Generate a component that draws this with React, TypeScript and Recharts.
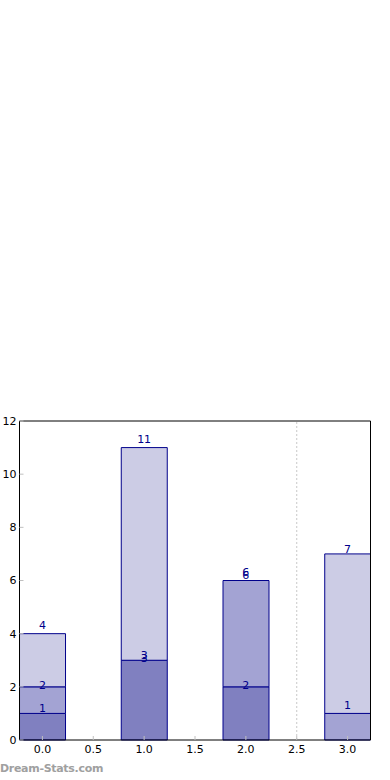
import React from 'react'
import {
  ComposedChart,
  Bar,
  Line,
  XAxis,
  YAxis,
  ReferenceLine,
  LabelList,
} from 'recharts'

// bar positions on the numeric x axis
const positions = [0, 1, 2, 3]
// stacked segments, bottom to top
const darkValues = [1, 3, 2, 0]
const midValues = [1, 0, 4, 1]
const lightValues = [2, 8, 0, 6]

const xTicks = [0, 0.5, 1, 1.5, 2, 2.5, 3]
const yTicks = [0, 2, 4, 6, 8, 10, 12]
const dividerX = 2.5

const EDGE = '#00008b'
const TICK_GRAY = '#c0c0c0'
const FONT = '"DejaVu Sans", sans-serif'
const X_DOMAIN = [-0.225, 3.225]

const chartData = positions.map((pos, i) => {
  const dark = darkValues[i]
  const mid = midValues[i]
  const light = lightValues[i]
  return {
    pos,
    dark,
    mid,
    light,
    cumDark: dark,
    cumMid: dark + mid,
    cumLight: dark + mid + light,
  }
})

// small vertical nudges (px) of the total labels, per series and bar
const labelLines = [
  { key: 'cumDark', shift: [-1.4, -1.3, 2.2, 0] },
  { key: 'cumMid', shift: [2.2, 1.7, -4.3, -4] },
  { key: 'cumLight', shift: [-4.7, -4.6, -1.3, -1.3] },
]

// labels show the running total at the top of each segment
const makeLabel = (shift: number[]) => (props: any) => {
  const { x, y, value, index } = props
  if (!value) return null
  return (
    <text
      x={Number(x)}
      y={Number(y) + (shift[index] ?? 0)}
      textAnchor="middle"
      fill={EDGE}
      fontSize={11}
      fontFamily={FONT}
    >
      {value}
    </text>
  )
}

export default function App() {
  return (
    <div style={{ position: 'absolute', left: 0, top: 0, width: 390, height: 780, fontFamily: FONT }}>
      <ComposedChart
        width={390}
        height={780}
        data={chartData}
        margin={{ top: 420, right: 18.5, bottom: 20, left: 0 }}
        barSize={46}
      >
        <XAxis
          dataKey="pos"
          type="number"
          domain={X_DOMAIN}
          allowDataOverflow
          ticks={xTicks}
          tickFormatter={(v: number) => v.toFixed(1)}
          height={20}
          tickSize={-4}
          tickMargin={9}
          axisLine={{ stroke: '#000' }}
          tickLine={{ stroke: TICK_GRAY }}
          tick={{ fill: '#000', fontSize: 11, fontFamily: FONT }}
        />
        <XAxis
          xAxisId="top"
          orientation="top"
          dataKey="pos"
          type="number"
          domain={X_DOMAIN}
          allowDataOverflow
          ticks={xTicks}
          height={1}
          tickSize={-4}
          axisLine={{ stroke: '#000' }}
          tickLine={{ stroke: TICK_GRAY }}
          tick={false}
        />
        <YAxis
          domain={[0, 12]}
          ticks={yTicks}
          width={19.5}
          tickSize={-4}
          tickMargin={7}
          axisLine={{ stroke: '#000' }}
          tickLine={{ stroke: TICK_GRAY }}
          tick={{ fill: '#000', fontSize: 11, fontFamily: FONT }}
        />
        <YAxis
          yAxisId="right"
          orientation="right"
          domain={[0, 12]}
          ticks={yTicks}
          width={1}
          tickSize={-4}
          axisLine={{ stroke: '#000' }}
          tickLine={{ stroke: TICK_GRAY }}
          tick={false}
        />
        <ReferenceLine x={dividerX} stroke="#c8c8c8" strokeDasharray="2 2" />
        <Bar dataKey="dark" stackId="a" fill="#8080c0" stroke={EDGE} strokeWidth={1} isAnimationActive={false} />
        <Bar dataKey="mid" stackId="a" fill="#a3a3d3" stroke={EDGE} strokeWidth={1} isAnimationActive={false} />
        <Bar dataKey="light" stackId="a" fill="#ccccE5" stroke={EDGE} strokeWidth={1} isAnimationActive={false} />
        {labelLines.map((l) => (
          <Line
            key={l.key}
            dataKey={l.key}
            stroke="none"
            dot={false}
            activeDot={false}
            legendType="none"
            isAnimationActive={false}
          >
            <LabelList dataKey={l.key} content={makeLabel(l.shift)} />
          </Line>
        ))}
      </ComposedChart>
      <div
        style={{
          position: 'absolute',
          left: 0,
          top: 762,
          fontSize: 11,
          fontWeight: 'bold',
          letterSpacing: -0.3,
          color: '#a0a0a0',
          fontFamily: FONT,
        }}
      >
        Dream-Stats.com
      </div>
    </div>
  )
}
